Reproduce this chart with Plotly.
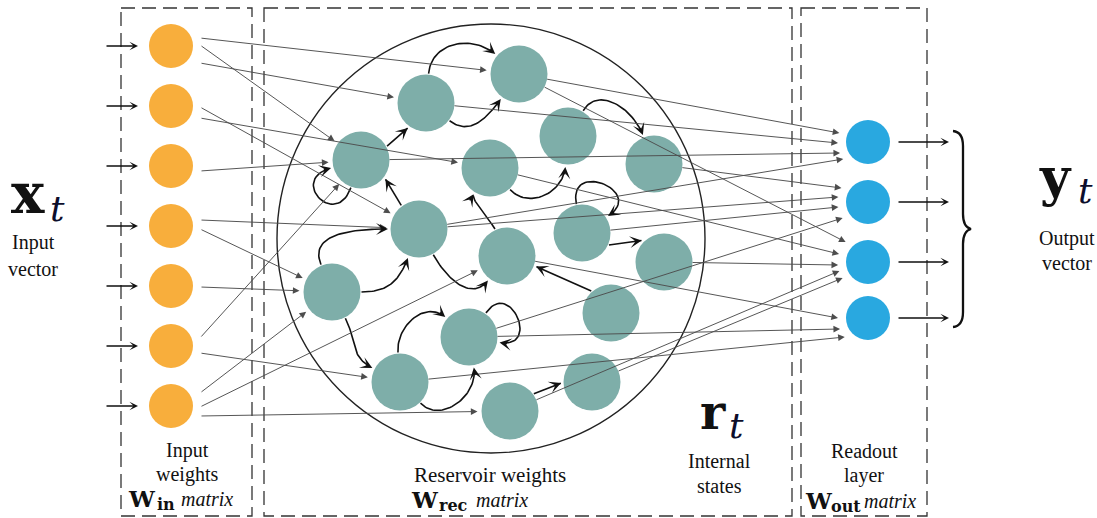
import numpy as np
import plotly.graph_objects as go

# ---------------- data ----------------
input_y = [46, 106, 166, 226, 286, 346, 406]
output_y = [142, 202, 262, 318]
res_x = [426, 519, 361, 490, 568, 654, 419, 507, 582, 664, 332, 469, 611, 400, 592, 510]
res_y = [103, 74, 160, 168, 136, 164, 229, 256, 233, 262, 292, 337, 313, 382, 382, 411]

# input -> reservoir links
in_src = [0, 0, 0, 1, 1, 2, 3, 3, 4, 5, 5, 6, 6, 6]
in_dst = [1, 2, 0, 6, 3, 2, 6, 10, 10, 2, 13, 10, 7, 15]
# reservoir -> output links
out_src = [1, 0, 2, 6, 5, 6, 8, 11, 1, 3, 9, 15, 14, 7, 11, 13]
out_dst = [0, 0, 0, 0, 1, 1, 1, 1, 2, 2, 2, 2, 2, 3, 3, 3]
# recurrent links
rec_src = [0, 0, 2, 4, 3, 2, 6, 7, 8, 8, 10, 10, 6, 12, 10, 13, 11, 13, 15]
rec_dst = [1, 1, 0, 5, 4, 2, 2, 3, 8, 9, 6, 6, 7, 7, 13, 11, 11, 11, 14]

# ---------------- geometry / ports / style ----------------
input_x = 171
output_x = 868
r_in, r_res, r_out = 22, 28.5, 22
in_port_dy = [-8, -1, 17, 1, 12, 5, -6, 3, 1, -8, 7, -13, 1, 10]
out_port_dy = [-9, 1, 11, 17, -14, -5, 5, 16, -20, -8, 3, 9, 16, 0, 11, 19]
rec_src_ang = [-85, 37, -28, -59, 47, 110, -127, -114, -101, 24, -112, 0, 61, -132, 63, -94, -55, 46, -36]
rec_dst_ang = [-140, 126, 126, -111, 95, 165, 38, 122, -33, -136, 180, 111, 128, 20, -153, -140, 10, 81, 178]
rec_curv = [0.45, 0.45, 0, 0.45, 0.45, 1.6, 0, 0.15, 1.35, 0, 0.45, 0.45, 0.45, 0, 0.45, 0.45, 1.3, 0.45, 0]

C_IN = '#F8AE3C'
C_RES = '#7EAEA9'
C_OUT = '#29A8E0'
C_THIN = '#4d4d4d'
C_T = '#0d0d2b'

W, H = 1097, 518

annotations = []
shapes = []


def arrow(x0, y0, x1, y1, width, color, head, size):
    return dict(x=x1, y=y1, ax=x0, ay=y0, xref='x', yref='y', axref='x', ayref='y',
                text='', showarrow=True, arrowhead=head, arrowsize=size,
                arrowwidth=width, arrowcolor=color, standoff=0, startstandoff=0)


def unit(dx, dy):
    n = np.hypot(dx, dy)
    return dx / n, dy / n


# ---- dashed boxes ----
for x0, x1 in [(121, 252), (264, 792), (801, 927)]:
    shapes.append(dict(type='rect', xref='x', yref='y', x0=x0, x1=x1, y0=8, y1=516,
                       line=dict(color='#333333', width=1.3, dash='14px,7px'), layer='below'))

# ---- reservoir circle ----
shapes.append(dict(type='circle', xref='x', yref='y', x0=277, x1=705, y0=24, y1=453,
                   line=dict(color='#222222', width=1.4), layer='below'))

# ---- brace ----
shapes.append(dict(type='path', xref='x', yref='y',
                   path='M 953,131 Q 963,132 963,146 L 963,214 Q 963,227 971,229 '
                        'Q 963,231 963,244 L 963,312 Q 963,326 953,327',
                   line=dict(color='#111111', width=2.3)))

# ---- input arrows & output arrows ----
for y in input_y:
    annotations.append(arrow(105, y, 138, y, 1.3, '#111111', 3, 1.1))
for y in output_y:
    annotations.append(arrow(897, y, 949, y, 1.3, '#111111', 3, 1.1))

# ---- thin input -> reservoir links ----
for s, d, dy in zip(in_src, in_dst, in_port_dy):
    sx, sy = input_x + 29, input_y[s] + dy
    ux, uy = unit(res_x[d] - sx, res_y[d] - sy)
    ex, ey = res_x[d] - (r_res + 4) * ux, res_y[d] - (r_res + 4) * uy
    annotations.append(arrow(sx, sy, ex, ey, 0.95, C_THIN, 2, 1.4))

# ---- thin reservoir -> output links ----
for s, d, dy in zip(out_src, out_dst, out_port_dy):
    dx = np.sqrt(30 ** 2 - dy ** 2)
    ex, ey = output_x - dx, output_y[d] + dy
    ux, uy = unit(ex - res_x[s], ey - res_y[s])
    sx, sy = res_x[s] + 0.95 * r_res * ux, res_y[s] + 0.95 * r_res * uy
    annotations.append(arrow(sx, sy, ex, ey, 0.95, C_THIN, 2, 1.4))

# ---- recurrent curved links ----
cx, cy = [], []
for s, d, a1, a2, kf in zip(rec_src, rec_dst, rec_src_ang, rec_dst_ang, rec_curv):
    n1 = np.array([np.cos(np.radians(a1)), np.sin(np.radians(a1))])
    n2 = np.array([np.cos(np.radians(a2)), np.sin(np.radians(a2))])
    P0 = np.array([res_x[s], res_y[s]]) + (r_res + 1) * n1
    P3 = np.array([res_x[d], res_y[d]]) + (r_res + 2.5) * n2
    chord = np.linalg.norm(P3 - P0)
    k = kf * chord
    P1 = P0 + k * n1
    P2 = P3 + k * n2
    t = np.linspace(0, 1, 40)[:, None]
    pts = ((1 - t) ** 3) * P0 + 3 * ((1 - t) ** 2) * t * P1 + 3 * (1 - t) * t ** 2 * P2 + t ** 3 * P3
    cx += list(pts[:-2, 0]) + [None]
    cy += list(pts[:-2, 1]) + [None]
    tan = P3 - P2 if kf > 0 else P3 - P0
    tx, ty = unit(tan[0], tan[1])
    annotations.append(arrow(P3[0] - 9 * tx, P3[1] - 9 * ty, P3[0], P3[1], 1.6, '#111111', 3, 1.25))

# ---- text ----
def txt(s, x, base, size, family='Liberation Serif', anchor='center', color='#111111'):
    return dict(x=x, y=base - 0.34 * size, xref='x', yref='y', text=s, showarrow=False,
                xanchor=anchor, yanchor='middle', borderpad=0,
                font=dict(family=family, size=size, color=color))

SERIF = 'Liberation Serif'
MATH = 'DejaVu Serif'
annotations += [
    txt('<b>x</b>', 10, 212, 56, MATH, 'left'),
    txt('<i>t</i>', 49, 221, 36, MATH, 'left', C_T),
    txt('Input', 33, 249, 20, SERIF),
    txt('vector', 33, 276, 20, SERIF),
    txt('Input', 187, 457, 20, SERIF),
    txt('weights', 187, 481, 20, SERIF),
    txt('<b>W</b>', 127, 506, 23, MATH, 'left'),
    txt('<b>in</b>', 156, 510, 16, MATH, 'left'),
    txt('<i>matrix</i>', 180, 506, 20, SERIF, 'left'),
    txt('Reservoir weights', 490, 482, 21, SERIF),
    txt('<b>W</b>', 410, 507, 23, MATH, 'left'),
    txt('<b>rec</b>', 438, 511, 16, MATH, 'left'),
    txt('<i>matrix</i>', 475, 507, 20, SERIF, 'left'),
    txt('<b>r</b>', 699, 428, 48, MATH, 'left'),
    txt('<i>t</i>', 728, 438, 36, MATH, 'left', C_T),
    txt('Internal', 719, 468, 20, SERIF),
    txt('states', 719, 493, 20, SERIF),
    txt('Readout', 864, 458, 20, SERIF),
    txt('layer', 864, 482, 20, SERIF),
    txt('<b>W</b>', 804, 508, 23, MATH, 'left'),
    txt('<b>out</b>', 830, 512, 16, MATH, 'left'),
    txt('<i>matrix</i>', 863, 508, 20, SERIF, 'left'),
    txt('<b>y</b>', 1038, 194, 52, MATH, 'left'),
    txt('<i>t</i>', 1077, 203, 36, MATH, 'left', C_T),
    txt('Output', 1038, 245, 20, SERIF, 'left'),
    txt('vector', 1067, 270, 20, SERIF),
]

fig = go.Figure()
fig.add_trace(go.Scatter(x=cx, y=cy, mode='lines', line=dict(color='#111111', width=1.6),
                         hoverinfo='skip', showlegend=False))
fig.add_trace(go.Scatter(x=[input_x] * len(input_y), y=input_y, mode='markers',
                         marker=dict(size=2 * r_in, color=C_IN, line=dict(width=0)),
                         hoverinfo='skip', showlegend=False))
fig.add_trace(go.Scatter(x=res_x, y=res_y, mode='markers',
                         marker=dict(size=2 * r_res, color=C_RES, line=dict(width=0)),
                         hoverinfo='skip', showlegend=False))
fig.add_trace(go.Scatter(x=[output_x] * len(output_y), y=output_y, mode='markers',
                         marker=dict(size=2 * r_out, color=C_OUT, line=dict(width=0)),
                         hoverinfo='skip', showlegend=False))

fig.update_layout(
    width=W, height=H, margin=dict(l=0, r=0, t=0, b=0),
    paper_bgcolor='white', plot_bgcolor='white',
    xaxis=dict(range=[0, W], visible=False, fixedrange=True),
    yaxis=dict(range=[H, 0], visible=False, fixedrange=True),
    shapes=shapes, annotations=annotations, showlegend=False,
)
fig.write_html('out.html', config={'displayModeBar': False},
               post_script="document.body.style.margin='0px';document.body.style.overflow='hidden';")
